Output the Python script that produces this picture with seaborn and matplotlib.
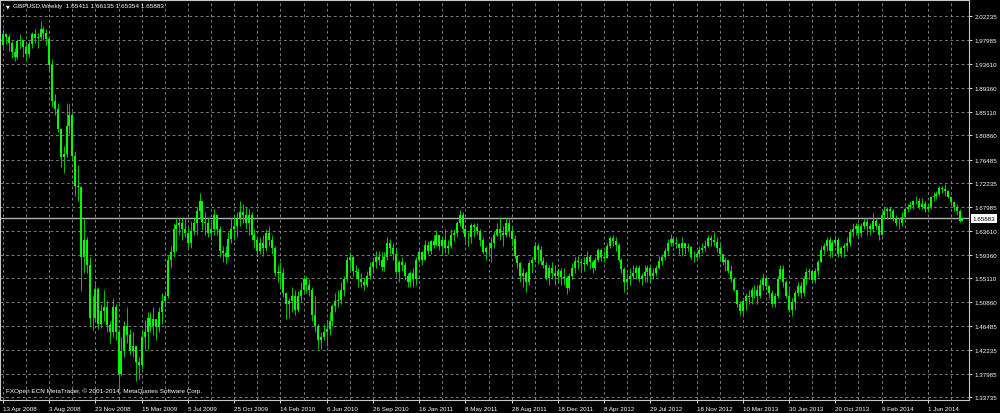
import matplotlib
matplotlib.use("Agg")
import matplotlib.pyplot as plt
import seaborn as sns
import numpy as np

# weekly GBPUSD bars, first bar = week of 13 Apr 2008
first_open = 1.970
closes = [
    1.990, 1.985, 1.975, 1.958, 1.950, 1.978, 1.980, 1.968, 1.955, 1.972,
    1.990, 1.983, 1.985, 2.000, 1.993, 1.982, 1.935, 1.870, 1.855, 1.820,
    1.770, 1.775, 1.825, 1.845, 1.772, 1.718, 1.715, 1.590, 1.620, 1.575,
    1.480, 1.480, 1.532, 1.470, 1.493, 1.500, 1.468, 1.455, 1.500, 1.455,
    1.380, 1.420, 1.465, 1.450, 1.420, 1.430, 1.400, 1.395, 1.445, 1.455,
    1.480, 1.465, 1.478, 1.463, 1.490, 1.510, 1.520, 1.585, 1.598, 1.640,
    1.648, 1.650, 1.640, 1.632, 1.615, 1.637, 1.650, 1.672, 1.690, 1.652,
    1.650, 1.632, 1.640, 1.665, 1.640, 1.600, 1.597, 1.590, 1.622, 1.640,
    1.645, 1.660, 1.670, 1.665, 1.650, 1.665, 1.630, 1.620, 1.600, 1.615,
    1.605, 1.632, 1.620, 1.605, 1.560, 1.562, 1.560, 1.525, 1.505, 1.510,
    1.520, 1.495, 1.520, 1.530, 1.550, 1.540, 1.530, 1.485, 1.465, 1.440,
    1.445, 1.455, 1.460, 1.475, 1.502, 1.510, 1.512, 1.530, 1.550, 1.585,
    1.590, 1.565, 1.562, 1.550, 1.545, 1.540, 1.555, 1.572, 1.580, 1.590,
    1.585, 1.572, 1.590, 1.615, 1.605, 1.595, 1.563, 1.580, 1.575, 1.555,
    1.545, 1.560, 1.550, 1.585, 1.598, 1.585, 1.612, 1.600, 1.618, 1.612,
    1.630, 1.610, 1.620, 1.605, 1.610, 1.630, 1.633, 1.650, 1.665, 1.640,
    1.625, 1.625, 1.647, 1.644, 1.637, 1.620, 1.598, 1.605, 1.605, 1.615,
    1.630, 1.640, 1.632, 1.630, 1.650, 1.637, 1.622, 1.592, 1.578, 1.556,
    1.560, 1.545, 1.578, 1.585, 1.610, 1.602, 1.582, 1.575, 1.552, 1.570,
    1.560, 1.555, 1.565, 1.553, 1.551, 1.533, 1.556, 1.570, 1.582, 1.580,
    1.578, 1.577, 1.590, 1.580, 1.570, 1.585, 1.603, 1.590, 1.588, 1.610,
    1.623, 1.618, 1.612, 1.585, 1.568, 1.545, 1.550, 1.555, 1.560, 1.570,
    1.550, 1.555, 1.562, 1.570, 1.555, 1.560, 1.570, 1.583, 1.590, 1.600,
    1.615, 1.622, 1.615, 1.613, 1.605, 1.615, 1.605, 1.608, 1.590, 1.590,
    1.595, 1.603, 1.605, 1.610, 1.623, 1.620, 1.617, 1.605, 1.595, 1.580,
    1.585, 1.565, 1.550, 1.530, 1.505, 1.493, 1.510, 1.520, 1.518, 1.530,
    1.530, 1.520, 1.540, 1.552, 1.537, 1.525, 1.505, 1.520, 1.550, 1.568,
    1.545, 1.520, 1.495, 1.508, 1.525, 1.537, 1.525, 1.550, 1.562, 1.565,
    1.548, 1.565, 1.580, 1.602, 1.610, 1.620, 1.600, 1.615, 1.620, 1.595,
    1.605, 1.610, 1.615, 1.635, 1.640, 1.645, 1.633, 1.645, 1.653, 1.645,
    1.640, 1.655, 1.645, 1.630, 1.665, 1.673, 1.675, 1.672, 1.660, 1.650,
    1.650, 1.662, 1.675, 1.680, 1.683, 1.690, 1.690, 1.680, 1.685, 1.675,
    1.680, 1.697, 1.700, 1.702, 1.713, 1.712, 1.708, 1.698, 1.688, 1.680,
    1.672, 1.65411, 1.65883,
]
highs = [
    1.999, 1.993, 1.990, 1.978, 1.965, 1.982, 1.990, 1.980, 1.972, 1.978,
    1.995, 2.000, 1.993, 2.014, 2.005, 2.000, 1.985, 1.945, 1.882, 1.866,
    1.822, 1.790, 1.866, 1.865, 1.850, 1.780, 1.755, 1.718, 1.660, 1.625,
    1.590, 1.520, 1.545, 1.535, 1.505, 1.530, 1.510, 1.475, 1.515, 1.505,
    1.460, 1.445, 1.475, 1.500, 1.460, 1.455, 1.430, 1.410, 1.460, 1.477,
    1.490, 1.490, 1.500, 1.475, 1.500, 1.525, 1.528, 1.593, 1.610, 1.650,
    1.660, 1.660, 1.660, 1.660, 1.645, 1.655, 1.660, 1.680, 1.704, 1.690,
    1.670, 1.662, 1.655, 1.675, 1.665, 1.645, 1.610, 1.610, 1.635, 1.660,
    1.665, 1.670, 1.690, 1.685, 1.680, 1.676, 1.670, 1.640, 1.625, 1.625,
    1.630, 1.640, 1.645, 1.630, 1.610, 1.575, 1.580, 1.570, 1.525, 1.515,
    1.535, 1.530, 1.528, 1.545, 1.555, 1.555, 1.550, 1.535, 1.520, 1.470,
    1.455, 1.470, 1.475, 1.490, 1.505, 1.525, 1.530, 1.545, 1.555, 1.590,
    1.599, 1.592, 1.575, 1.570, 1.560, 1.553, 1.565, 1.580, 1.590, 1.600,
    1.600, 1.598, 1.598, 1.625, 1.622, 1.615, 1.605, 1.585, 1.590, 1.580,
    1.560, 1.565, 1.570, 1.590, 1.605, 1.600, 1.620, 1.618, 1.620, 1.630,
    1.638, 1.630, 1.625, 1.640, 1.620, 1.640, 1.640, 1.655, 1.674, 1.670,
    1.648, 1.635, 1.650, 1.650, 1.650, 1.640, 1.625, 1.610, 1.615, 1.625,
    1.637, 1.650, 1.662, 1.645, 1.660, 1.658, 1.646, 1.630, 1.593, 1.580,
    1.570, 1.565, 1.585, 1.590, 1.615, 1.615, 1.610, 1.590, 1.580, 1.575,
    1.580, 1.575, 1.570, 1.570, 1.570, 1.555, 1.560, 1.578, 1.590, 1.592,
    1.583, 1.590, 1.600, 1.593, 1.585, 1.590, 1.605, 1.605, 1.600, 1.615,
    1.627, 1.630, 1.625, 1.615, 1.587, 1.572, 1.560, 1.570, 1.575, 1.575,
    1.575, 1.560, 1.575, 1.575, 1.575, 1.570, 1.575, 1.592, 1.595, 1.605,
    1.622, 1.631, 1.628, 1.625, 1.615, 1.625, 1.615, 1.615, 1.610, 1.600,
    1.600, 1.610, 1.615, 1.620, 1.630, 1.630, 1.635, 1.625, 1.615, 1.595,
    1.590, 1.585, 1.575, 1.553, 1.530, 1.510, 1.515, 1.525, 1.530, 1.535,
    1.540, 1.540, 1.550, 1.560, 1.555, 1.540, 1.530, 1.525, 1.555, 1.575,
    1.575, 1.548, 1.535, 1.515, 1.530, 1.545, 1.545, 1.555, 1.570, 1.570,
    1.565, 1.570, 1.585, 1.610, 1.615, 1.625, 1.625, 1.620, 1.630, 1.625,
    1.610, 1.615, 1.625, 1.640, 1.650, 1.650, 1.650, 1.650, 1.660, 1.660,
    1.650, 1.668, 1.660, 1.650, 1.670, 1.682, 1.680, 1.680, 1.675, 1.665,
    1.660, 1.670, 1.680, 1.685, 1.690, 1.692, 1.700, 1.695, 1.695, 1.690,
    1.685, 1.700, 1.706, 1.708, 1.718, 1.718, 1.720, 1.710, 1.700, 1.690,
    1.685, 1.675, 1.66135,
]
lows = [
    1.966, 1.972, 1.960, 1.948, 1.942, 1.946, 1.963, 1.950, 1.943, 1.950,
    1.965, 1.975, 1.965, 1.982, 1.980, 1.970, 1.925, 1.860, 1.845, 1.815,
    1.752, 1.740, 1.770, 1.810, 1.765, 1.700, 1.690, 1.528, 1.560, 1.560,
    1.465, 1.458, 1.475, 1.460, 1.462, 1.475, 1.455, 1.435, 1.445, 1.440,
    1.350, 1.375, 1.410, 1.435, 1.414, 1.410, 1.366, 1.370, 1.388, 1.425,
    1.425, 1.455, 1.450, 1.440, 1.455, 1.470, 1.500, 1.515, 1.570, 1.590,
    1.600, 1.630, 1.620, 1.625, 1.605, 1.605, 1.630, 1.630, 1.660, 1.638,
    1.630, 1.625, 1.620, 1.630, 1.630, 1.590, 1.580, 1.577, 1.590, 1.615,
    1.620, 1.625, 1.645, 1.650, 1.640, 1.630, 1.620, 1.605, 1.590, 1.595,
    1.592, 1.600, 1.610, 1.595, 1.555, 1.545, 1.535, 1.518, 1.478, 1.480,
    1.490, 1.485, 1.490, 1.510, 1.525, 1.525, 1.520, 1.475, 1.455, 1.424,
    1.425, 1.440, 1.430, 1.450, 1.465, 1.490, 1.500, 1.505, 1.520, 1.545,
    1.568, 1.555, 1.550, 1.535, 1.535, 1.530, 1.535, 1.550, 1.560, 1.570,
    1.575, 1.565, 1.565, 1.585, 1.595, 1.585, 1.558, 1.545, 1.565, 1.548,
    1.535, 1.535, 1.535, 1.540, 1.580, 1.575, 1.585, 1.595, 1.595, 1.605,
    1.610, 1.603, 1.595, 1.597, 1.595, 1.605, 1.618, 1.625, 1.645, 1.633,
    1.617, 1.610, 1.615, 1.625, 1.630, 1.610, 1.595, 1.585, 1.592, 1.580,
    1.605, 1.628, 1.620, 1.610, 1.625, 1.625, 1.610, 1.588, 1.570, 1.545,
    1.535, 1.527, 1.540, 1.560, 1.580, 1.577, 1.575, 1.570, 1.548, 1.540,
    1.550, 1.540, 1.545, 1.540, 1.540, 1.523, 1.530, 1.550, 1.560, 1.568,
    1.560, 1.565, 1.575, 1.568, 1.560, 1.567, 1.580, 1.583, 1.580, 1.590,
    1.605, 1.610, 1.600, 1.580, 1.560, 1.527, 1.530, 1.540, 1.550, 1.550,
    1.545, 1.540, 1.545, 1.545, 1.545, 1.550, 1.555, 1.568, 1.575, 1.585,
    1.595, 1.610, 1.610, 1.605, 1.595, 1.592, 1.595, 1.600, 1.586, 1.580,
    1.585, 1.590, 1.597, 1.600, 1.608, 1.610, 1.610, 1.598, 1.585, 1.575,
    1.565, 1.560, 1.545, 1.528, 1.500, 1.485, 1.483, 1.495, 1.505, 1.505,
    1.515, 1.505, 1.515, 1.530, 1.530, 1.515, 1.500, 1.500, 1.515, 1.550,
    1.535, 1.515, 1.490, 1.483, 1.495, 1.520, 1.515, 1.520, 1.540, 1.550,
    1.545, 1.542, 1.555, 1.580, 1.595, 1.600, 1.590, 1.590, 1.610, 1.590,
    1.590, 1.590, 1.600, 1.610, 1.625, 1.630, 1.625, 1.625, 1.640, 1.630,
    1.630, 1.635, 1.640, 1.620, 1.630, 1.660, 1.660, 1.660, 1.655, 1.645,
    1.640, 1.645, 1.660, 1.670, 1.675, 1.675, 1.685, 1.675, 1.675, 1.670,
    1.670, 1.675, 1.690, 1.693, 1.700, 1.705, 1.700, 1.695, 1.682, 1.673,
    1.665, 1.653, 1.65354,
]

tick_labels = ["13 Apr 2008", "3 Aug 2008", "23 Nov 2008", "15 Mar 2009", "5 Jul 2009",
               "25 Oct 2009", "14 Feb 2010", "6 Jun 2010", "26 Sep 2010", "16 Jan 2011",
               "8 May 2011", "28 Aug 2011", "18 Dec 2011", "8 Apr 2012", "29 Jul 2012",
               "18 Nov 2012", "10 Mar 2013", "30 Jun 2013", "20 Oct 2013", "9 Feb 2014",
               "1 Jun 2014"]
price_ticks = [2.02235, 1.97985, 1.93610, 1.89360, 1.85110, 1.80860, 1.76485, 1.72235,
               1.67985, 1.63610, 1.59360, 1.55110, 1.50860, 1.46485, 1.42235, 1.37985, 1.33735]
last_bar = (1.65411, 1.66135, 1.65354, 1.65883)

sns.set_theme(style="dark", rc={
    "figure.facecolor": "black", "axes.facecolor": "black",
    "axes.edgecolor": "#c8c8c8", "lines.scale_dashes": False,
})
plt.rcParams["font.family"] = ["Liberation Sans", "DejaVu Sans"]

closes = np.array(closes)
opens = np.concatenate([[first_open], closes[:-1]])
highs = np.maximum(np.array(highs), np.maximum(opens, closes))
lows = np.minimum(np.array(lows), np.minimum(opens, closes))
x = np.arange(len(closes))

fig = plt.figure(figsize=(10, 4.14), dpi=100)
ax = fig.add_axes([0.0, 13 / 414, 969 / 1000, 400 / 414])

# grid
for p in price_ticks:
    ax.axhline(p, color="#909090", lw=0.6, ls=(0, (2, 2)), zorder=1)
for v in range(0, len(closes), 8):
    ax.axvline(v, color="#909090", lw=0.6, ls=(0, (2, 2)), zorder=1)

ax.vlines(x, lows, highs, color="#00c800", lw=0.7, zorder=3)
ax.vlines(x, np.minimum(opens, closes), np.maximum(opens, closes), color="#00ff00", lw=1.4, zorder=3)

# current price line
ax.axhline(last_bar[3], color="#b0b0b0", lw=1.0, zorder=2)

ax.set_xlim(-1.04, 334.26)
ax.set_ylim(1.33250, 2.05166)

ax.yaxis.tick_right()
ax.set_yticks(price_ticks)
ax.set_yticklabels([f"{p:.5f}" for p in price_ticks])
ax.set_xticks(np.arange(len(tick_labels)) * 16)
ax.set_xticklabels(tick_labels, ha="left")
ax.tick_params(axis="both", colors="white", labelcolor="white", labelsize=4.5,
               length=2.5, width=0.6, direction="out", pad=1.5)
ax.tick_params(axis="y", right=True, left=False)
ax.tick_params(axis="x", bottom=True)
for s in ax.spines.values():
    s.set_color("#c8c8c8")
    s.set_linewidth(0.8)
ax.grid(False)

ax.annotate(f"{last_bar[3]:.5f}", xy=(1.0, last_bar[3]), xycoords=("axes fraction", "data"),
            xytext=(2.5, 0), textcoords="offset points", va="center", ha="left",
            fontsize=4.5, color="black",
            bbox=dict(boxstyle="square,pad=0.25", fc="white", ec="none"))

fig.text(0.006, 0.984, "\u25bc", color="white", fontsize=3.5, va="center", ha="left",
         family=["DejaVu Sans"])
fig.text(0.013, 0.984, "GBPUSD,Weekly  " + " ".join(f"{v:.5f}" for v in last_bar),
         color="white", fontsize=4.6, va="center", ha="left")
fig.text(0.006, 0.055, "FXOpen ECN MetaTrader, \u00a9 2001-2014, MetaQuotes Software Corp.",
         color="white", fontsize=4.6, va="center", ha="left")

fig.savefig("out.png", dpi=100, facecolor="black")
